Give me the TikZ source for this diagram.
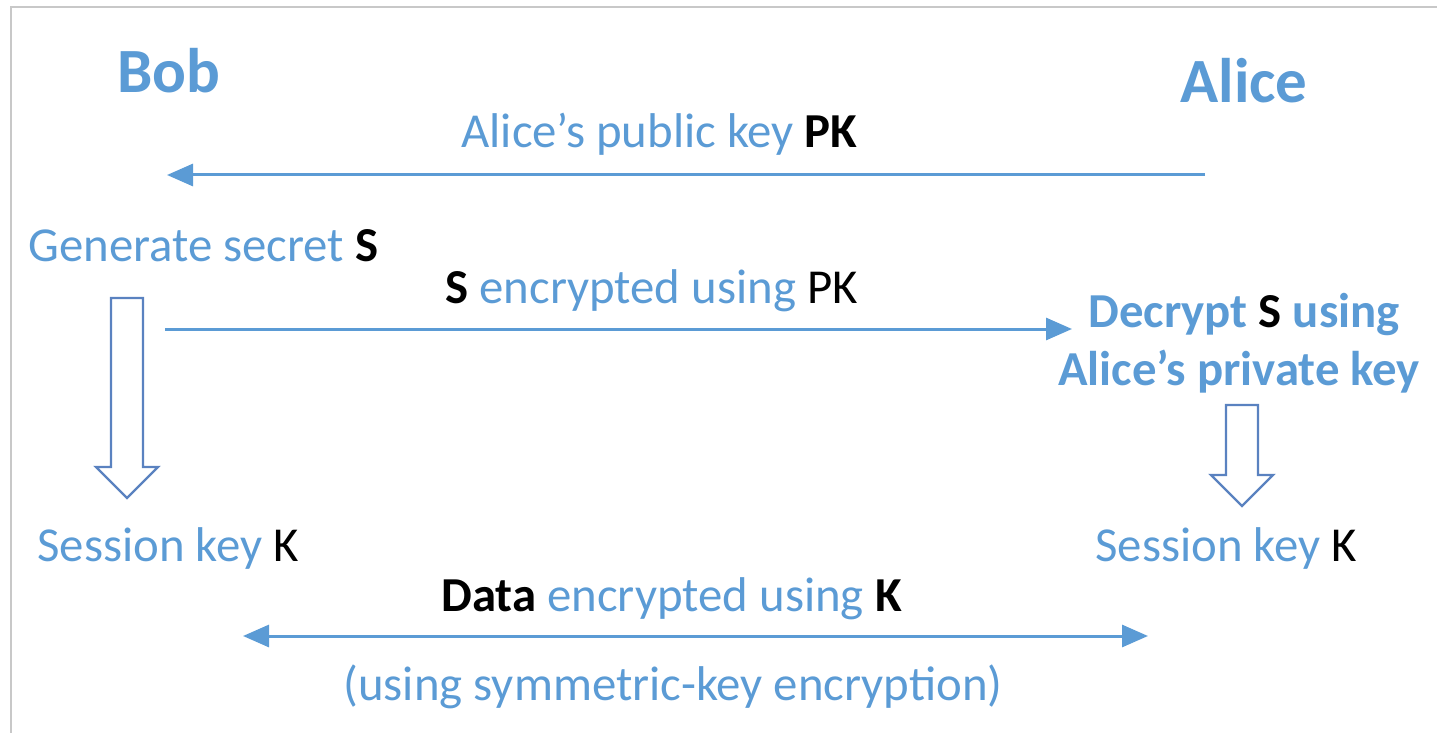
\documentclass[tikz,border=0pt]{standalone}
\usepackage{fontspec}
\setmainfont{Carlito}
\usetikzlibrary{arrows.meta}
\definecolor{msblue}{HTML}{5B9BD5}
\definecolor{outlineblue}{HTML}{5A82C0}
\definecolor{framegray}{HTML}{C8C8C8}
\tikzset{
  lbl/.style={inner sep=0pt, anchor=base west, text=msblue, font=\fontsize{24.4}{28}\selectfont},
  who/.style={inner sep=0pt, anchor=base west, text=msblue, font=\fontsize{31.5}{36}\selectfont\bfseries},
  msg/.style={draw=msblue, line width=1.5pt, -{Triangle[length=13pt,width=11pt]}},
  twoway/.style={draw=msblue, line width=1.5pt, {Triangle[length=13pt,width=11pt]}-{Triangle[length=13pt,width=11pt]}},
  hollow/.style={draw=outlineblue, line width=1.2pt, fill=white, line join=miter},
}
\newcommand{\blk}[1]{\textcolor{black}{#1}}
\begin{document}
\begin{tikzpicture}[x=0.5pt,y=-0.5pt]
\useasboundingbox (0,0) rectangle (1437,733);
% frame (top and left edges)
\draw[framegray, line width=1pt] (1437,7) -- (11,7) -- (11,733);

% parties
\node[who] (bob) at (117,93) {Bob};
\node[who] (alice) at (1180,103) {Alice};

% public key exchange
\node[lbl] (pklbl) at (461,148) {Alice’s public key \blk{\bfseries PK}};
\coordinate (pkstart) at (1205,175);
\coordinate (pkend) at (167,175);
\draw[msg] (pkstart) -- (pkend);

% Bob side
\node[lbl] (gen) at (28,262) {Generate secret \blk{\bfseries S}};
\node[lbl] (enc) at (445,303) {\blk{\bfseries S} encrypted using \blk{PK}};
\coordinate (encstart) at (165,329);
\coordinate (encend) at (1072,329);
\draw[msg] (encstart) -- (encend);

% Alice side
\node[lbl, font=\fontsize{24.4}{28}\selectfont\bfseries] (dec1) at (1088,328) {Decrypt \blk{S} using};
\node[lbl, font=\fontsize{24.4}{28}\selectfont\bfseries] (dec2) at (1058,386) {Alice’s private key};

% derivation arrows
\draw[hollow] (111,298) -- (143,298) -- (143,467) -- (158,467) -- (127,498) -- (96,467) -- (111,467) -- cycle;
\draw[hollow] (1226,405) -- (1258,405) -- (1258,475) -- (1273,475) -- (1242,506) -- (1211,475) -- (1226,475) -- cycle;

% session keys
\node[lbl] (skb) at (37,561) {Session key \blk{K}};
\node[lbl] (ska) at (1095,561) {Session key \blk{K}};

% symmetric data exchange
\node[lbl] (data) at (441,611) {\blk{\bfseries Data} encrypted using \blk{\bfseries K}};
\coordinate (dleft) at (243,636);
\coordinate (dright) at (1148,636);
\draw[twoway] (dleft) -- (dright);
\node[lbl] (sym) at (343,700) {(using symmetric-key encryption)};
\end{tikzpicture}
\end{document}
